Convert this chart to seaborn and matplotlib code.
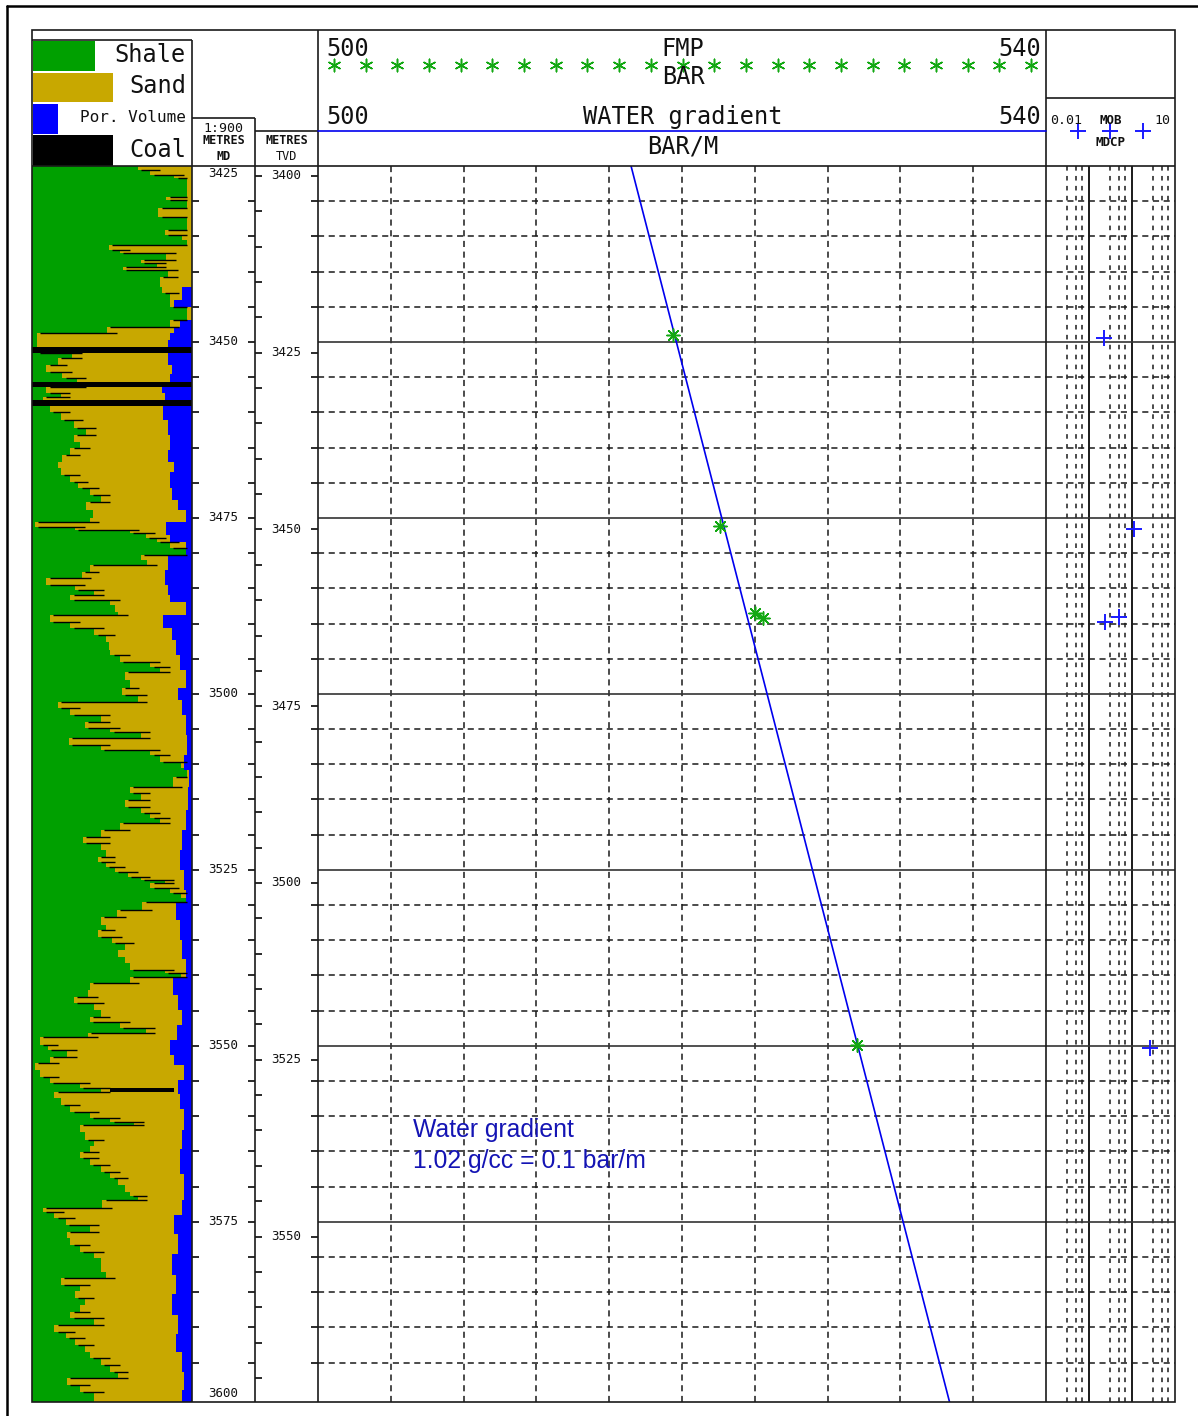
import numpy as np
import matplotlib
matplotlib.use("Agg")
import matplotlib.pyplot as plt
from matplotlib.patches import Rectangle
import seaborn as sns

# ---------------- DATA ----------------
MD_TOP, MD_BOT = 3425.0, 3600.6
TVD_TOP, TVD_BOT = 3398.6, 3573.4
P_MIN, P_MAX = 500, 540
MOB_MIN, MOB_MAX = 0.01, 10

# lithology: shale volume (fraction from left), step tops in MD
litho_md = [3425.0, 3425.6, 3426.3, 3426.7, 3429.4, 3429.8, 3431.0, 3432.2, 3434.1, 3434.8,
            3435.5, 3436.2, 3436.9, 3437.4, 3438.4, 3438.8, 3439.3, 3439.8, 3440.8, 3442.2,
            3443.0, 3445.0, 3446.9, 3447.9, 3448.7, 3451.6, 3452.3, 3453.3, 3454.3, 3455.1,
            3456.4, 3457.2, 3457.8, 3459.1, 3459.9, 3461.1, 3462.2, 3463.2, 3464.2, 3465.1,
            3466.1, 3467.0, 3467.9, 3468.9, 3469.9, 3470.7, 3471.7, 3472.7, 3473.9, 3475.0,
            3475.6, 3476.3, 3476.7, 3477.1, 3477.8, 3478.4, 3479.3, 3480.3, 3481.0, 3481.7,
            3482.7, 3483.5, 3484.5, 3485.2, 3485.9, 3486.6, 3487.4, 3488.4, 3488.8, 3489.8,
            3490.6, 3491.6, 3492.6, 3493.8, 3494.5, 3495.5, 3496.2, 3496.9, 3498.0, 3499.1,
            3500.1, 3501.1, 3502.0, 3503.0, 3504.0, 3504.8, 3505.4, 3506.2, 3507.2, 3508.0,
            3508.7, 3509.7, 3510.5, 3511.8, 3513.2, 3514.1, 3515.1, 3516.1, 3516.9, 3517.6,
            3518.3, 3519.3, 3520.3, 3521.2, 3522.2, 3523.2, 3523.9, 3524.6, 3525.3, 3526.0,
            3526.4, 3526.8, 3527.6, 3528.3, 3529.0, 3529.5, 3530.7, 3531.7, 3532.8, 3533.5,
            3534.5, 3535.4, 3536.4, 3537.4, 3538.2, 3539.2, 3539.6, 3540.2, 3541.1, 3542.0,
            3543.0, 3543.9, 3544.9, 3545.9, 3546.6, 3547.4, 3548.2, 3548.7, 3549.9, 3550.6,
            3551.6, 3552.4, 3553.4, 3554.4, 3555.3, 3556.0, 3556.5, 3557.4, 3558.4, 3559.4,
            3560.2, 3560.8, 3561.2, 3562.2, 3563.4, 3564.2, 3565.1, 3565.9, 3566.9, 3567.9,
            3568.8, 3569.7, 3570.7, 3571.4, 3571.9, 3573.0, 3573.6, 3574.4, 3575.4, 3576.4,
            3577.3, 3578.3, 3579.3, 3580.1, 3581.1, 3582.1, 3583.0, 3584.0, 3584.9, 3585.8,
            3586.8, 3587.8, 3588.6, 3589.6, 3590.6, 3591.5, 3592.5, 3593.5, 3594.3, 3595.3,
            3596.3, 3597.2, 3598.2, 3599.2]
vsh = [0.66, 0.74, 0.89, 0.97, 0.84, 0.97, 0.79, 0.97, 0.83, 0.94,
       0.97, 0.48, 0.55, 0.84, 0.68, 0.78, 0.57, 0.85, 0.80, 0.81,
       0.86, 0.97, 0.86, 0.47, 0.03, 0.25, 0.16, 0.09, 0.19, 0.28,
       0.09, 0.18, 0.07, 0.11, 0.18, 0.26, 0.34, 0.26, 0.30, 0.24,
       0.19, 0.16, 0.18, 0.24, 0.29, 0.36, 0.43, 0.34, 0.38, 0.36,
       0.02, 0.27, 0.61, 0.71, 0.78, 0.86, 0.96, 0.68, 0.72, 0.36,
       0.31, 0.09, 0.27, 0.39, 0.24, 0.49, 0.52, 0.54, 0.11, 0.24,
       0.39, 0.46, 0.48, 0.49, 0.55, 0.74, 0.80, 0.58, 0.61, 0.56,
       0.66, 0.16, 0.24, 0.43, 0.33, 0.49, 0.68, 0.23, 0.43, 0.74,
       0.80, 0.93, 0.97, 0.88, 0.61, 0.68, 0.58, 0.68, 0.74, 0.80,
       0.55, 0.43, 0.32, 0.43, 0.46, 0.41, 0.46, 0.52, 0.60, 0.68,
       0.83, 0.74, 0.86, 0.93, 0.97, 0.69, 0.53, 0.43, 0.46, 0.41,
       0.50, 0.58, 0.54, 0.58, 0.61, 0.83, 0.93, 0.61, 0.36, 0.35,
       0.26, 0.39, 0.43, 0.36, 0.55, 0.71, 0.35, 0.05, 0.10, 0.22,
       0.11, 0.02, 0.05, 0.11, 0.30, 0.43, 0.14, 0.18, 0.24, 0.36,
       0.49, 0.64, 0.30, 0.33, 0.39, 0.36, 0.30, 0.36, 0.43, 0.49,
       0.54, 0.58, 0.61, 0.66, 0.44, 0.07, 0.14, 0.21, 0.36, 0.22,
       0.24, 0.30, 0.39, 0.43, 0.43, 0.46, 0.18, 0.30, 0.27, 0.33,
       0.30, 0.24, 0.39, 0.14, 0.21, 0.27, 0.33, 0.36, 0.43, 0.49,
       0.54, 0.22, 0.30, 0.39]

# porosity volume (fraction from right), step tops in MD
por_md = [3425.0, 3442.2, 3444.0, 3445.0, 3446.9, 3447.9, 3448.7, 3449.7, 3453.3, 3454.6,
          3456.4, 3457.2, 3459.1, 3461.1, 3463.2, 3465.3, 3467.0, 3468.5, 3470.7, 3472.4,
          3473.9, 3475.6, 3477.4, 3478.4, 3480.3, 3482.4, 3484.5, 3485.9, 3486.9, 3488.8,
          3490.6, 3492.3, 3494.5, 3496.6, 3499.1, 3500.8, 3503.0, 3505.8, 3508.7, 3510.8,
          3513.2, 3516.5, 3519.3, 3522.2, 3525.0, 3527.8, 3529.5, 3532.1, 3534.9, 3537.7,
          3540.2, 3542.8, 3544.9, 3547.0, 3549.2, 3551.3, 3552.7, 3554.8, 3556.9, 3559.0,
          3561.9, 3564.7, 3568.2, 3571.9, 3574.0, 3576.8, 3579.6, 3582.5, 3585.3, 3588.2,
          3591.0, 3593.5, 3596.3, 3598.9]
phi = [0.00, 0.06, 0.11, 0.00, 0.075, 0.11, 0.14, 0.15, 0.125, 0.14,
       0.19, 0.17, 0.18, 0.15, 0.14, 0.15, 0.11, 0.14, 0.125, 0.09,
       0.04, 0.16, 0.14, 0.04, 0.15, 0.17, 0.15, 0.14, 0.04, 0.18,
       0.125, 0.10, 0.075, 0.04, 0.09, 0.06, 0.04, 0.03, 0.05, 0.02,
       0.025, 0.04, 0.06, 0.075, 0.05, 0.04, 0.10, 0.075, 0.06, 0.04,
       0.12, 0.09, 0.06, 0.095, 0.14, 0.11, 0.05, 0.09, 0.075, 0.05,
       0.06, 0.075, 0.05, 0.06, 0.11, 0.09, 0.125, 0.10, 0.125, 0.09,
       0.10, 0.06, 0.05, 0.06]

# coal beds: top, base, left, right (fraction of track)
coal_top = [3450.7, 3455.7, 3458.2, 3556.0]
coal_base = [3451.6, 3456.4, 3459.1, 3556.5]
coal_left = [0.0, 0.0, 0.0, 0.49]
coal_right = [1.0, 1.0, 1.0, 0.89]

# formation pressures (FMP, bar)
fmp_md = [3449.0, 3476.1, 3488.5, 3489.2, 3549.9]
fmp_bar = [519.5, 522.1, 524.0, 524.45, 529.6]

# mobility (MOB / MDCP)
mob_md = [3449.5, 3476.6, 3489.8, 3489.1, 3550.3]
mob_val = [0.223, 1.11, 0.236, 0.50, 2.62]

# water gradient line (0.1 bar/m)
wg_md = [3425.0, 3600.6]
wg_bar = [517.2, 534.7]

md_tick_labels = [3425, 3450, 3475, 3500, 3525, 3550, 3575, 3600]
tvd_tick_labels = [3400, 3425, 3450, 3475, 3500, 3525, 3550]

# ---------------- STYLE ----------------
sns.set_theme(style="white")
plt.rcParams['font.family'] = ['DejaVu Sans Mono', 'DejaVu Sans']

SHALE = '#00A000'
SAND = '#C8A800'
POR = '#0000FF'
FMPG = '#12A812'
WBLUE = '#0000EE'
LINEC = '#1a1a1a'
DASH = (0, (4, 3))

W, H = 1198, 1416
fig = plt.figure(figsize=(W / 100, H / 100), dpi=100)
fig.patch.set_facecolor('white')


def add_ax(x0, y0, x1, y1, **kw):
    return fig.add_axes([x0 / W, 1 - y1 / H, (x1 - x0) / W, (y1 - y0) / H], **kw)


def clean(ax):
    ax.set_xticks([])
    ax.set_yticks([])
    for s in ax.spines.values():
        s.set_visible(False)


# ---- lithology track ----
ax_l = add_ax(32, 166, 192, 1402)
ax_l.set_xlim(0, 1)
ax_l.set_ylim(MD_BOT, MD_TOP)
ax_l.set_facecolor(SAND)
clean(ax_l)
ly = np.append(litho_md, MD_BOT)
lv = np.append(vsh, vsh[-1])
ax_l.fill_betweenx(ly, 0, lv, step='post', color=SHALE, lw=0, antialiased=False)
py = np.append(por_md, MD_BOT)
pv = np.append(phi, phi[-1])
ax_l.fill_betweenx(py, 1 - pv, 1, step='post', color=POR, lw=0, antialiased=False)
# thin coal streaks at lithology transitions
for i in range(1, len(vsh)):
    a, b = sorted((vsh[i - 1], vsh[i]))
    if b - a > 0.04:
        ax_l.hlines(litho_md[i], a + 0.02, min(b + 0.06, 0.97), color='black', lw=1.0)
for t, b, x0, x1 in zip(coal_top, coal_base, coal_left, coal_right):
    ax_l.fill_between([x0, x1], t, b, color='black', lw=0)

# ---- MD track ----
ax_md = add_ax(192, 166, 255, 1402)
ax_md.set_xlim(0, 1)
ax_md.set_ylim(MD_BOT, MD_TOP)
clean(ax_md)
md_ticks = np.arange(3430, 3600, 5)
ax_md.hlines(md_ticks, 0.0, 0.11, color=LINEC, lw=1.3)
ax_md.hlines(md_ticks, 0.89, 1.0, color=LINEC, lw=1.3)
for d in md_tick_labels:
    va = 'center'
    yy = d
    if d == md_tick_labels[0]:
        va, yy = 'top', MD_TOP + 0.1
    elif d == md_tick_labels[-1]:
        va, yy = 'bottom', MD_BOT - 0.3
    ax_md.text(0.5, yy, str(d), ha='center', va=va, fontsize=9, color='#111111')

# ---- TVD track ----
ax_tvd = add_ax(255, 166, 318, 1402)
ax_tvd.set_xlim(0, 1)
ax_tvd.set_ylim(TVD_BOT, TVD_TOP)
clean(ax_tvd)
tvd_ticks = np.arange(3400, 3575, 5)
ax_tvd.hlines(tvd_ticks, 0.0, 0.11, color=LINEC, lw=1.3)
ax_tvd.hlines(tvd_tick_labels, 0.89, 1.0, color=LINEC, lw=1.3)
for d in tvd_tick_labels:
    ax_tvd.text(0.5, d, str(d), ha='center', va='center', fontsize=9, color='#111111')
# MD ticks of the pressure track drawn into the TVD track edge
ax_tvd_md = add_ax(255, 166, 318, 1402)
ax_tvd_md.set_xlim(0, 1)
ax_tvd_md.set_ylim(MD_BOT, MD_TOP)
ax_tvd_md.patch.set_alpha(0)
clean(ax_tvd_md)
ax_tvd_md.hlines([d for d in md_ticks if d % 25], 0.89, 1.0, color=LINEC, lw=1.3)

# ---- pressure track ----
ax_m = add_ax(318, 166, 1046, 1402)
ax_m.set_xlim(P_MIN, P_MAX)
ax_m.set_ylim(MD_BOT, MD_TOP)
clean(ax_m)
for p in range(P_MIN + 4, P_MAX, 4):
    ax_m.axvline(p, color=LINEC, lw=1.1, ls=DASH, zorder=1)
for d in md_ticks:
    if d % 25:
        ax_m.axhline(d, color=LINEC, lw=1.1, ls=DASH, zorder=1)
    else:
        ax_m.axhline(d, color='#333333', lw=1.2, zorder=1)
sns.lineplot(x=wg_bar, y=wg_md, sort=False, estimator=None, color=WBLUE, lw=1.2, ax=ax_m, zorder=3)
sns.scatterplot(x=fmp_bar, y=fmp_md, marker=(8, 2, 0), s=90, color=FMPG, linewidth=1.1, ax=ax_m, zorder=4)
ax_m.set_xlim(P_MIN, P_MAX)
ax_m.set_ylim(MD_BOT, MD_TOP)
ax_m.set_xlabel('')
ax_m.set_ylabel('')
ax_m.text(505.2, 3562.9, 'Water gradient', family=['Liberation Sans', 'DejaVu Sans'],
          fontsize=17.8, color='#1414B4', ha='left', va='baseline', zorder=5)
ax_m.text(505.2, 3567.3, '1.02 g/cc = 0.1 bar/m', family=['Liberation Sans', 'DejaVu Sans'],
          fontsize=17.8, color='#1414B4', ha='left', va='baseline', zorder=5)

# ---- mobility track ----
ax_r = add_ax(1046, 166, 1175, 1402)
ax_r.set_xscale('log')
ax_r.set_xlim(MOB_MIN, MOB_MAX)
ax_r.set_ylim(MD_BOT, MD_TOP)
clean(ax_r)
ax_r.minorticks_off()
for dec in [0.01, 0.1, 1]:
    for m in [3, 5, 7]:
        ax_r.axvline(dec * m, color=LINEC, lw=1.1, ls=(0, (3, 3.5)), zorder=1)
for dec in [0.1, 1]:
    ax_r.axvline(dec, color=LINEC, lw=1.4, zorder=1)
for d in md_ticks:
    if d % 25:
        ax_r.axhline(d, color=LINEC, lw=1.1, ls=DASH, zorder=1)
    else:
        ax_r.axhline(d, color='#333333', lw=1.2, zorder=1)
sns.scatterplot(x=mob_val, y=mob_md, marker='+', s=130, color='#1a1aff', linewidth=1.4, ax=ax_r, zorder=4)
ax_r.set_xscale('log')
ax_r.set_xlim(MOB_MIN, MOB_MAX)
ax_r.set_ylim(MD_BOT, MD_TOP)
ax_r.set_xlabel('')
ax_r.set_ylabel('')
ax_r.minorticks_off()
ax_r.set_xticks([])
ax_r.set_yticks([])

# ---- overlay: frames, headers, legend ----
ov = fig.add_axes([0, 0, 1, 1], zorder=20)
ov.set_xlim(0, W)
ov.set_ylim(H, 0)
ov.axis('off')
ov.patch.set_alpha(0)

FW = 1.2
# outer page frame
ov.plot([7, W], [6, 6], color='black', lw=1.8)
ov.plot([7, 7], [6, H], color='black', lw=1.8)
# panel frame
ov.add_patch(Rectangle((32, 30), 1175 - 32, 1402 - 30, fill=False, ec=LINEC, lw=FW))
segs = [
    ((32, 1175), (166, 166)),
    ((192, 192), (40, 1402)),
    ((255, 255), (118, 1402)),
    ((318, 318), (30, 1402)),
    ((1046, 1046), (30, 1402)),
    ((32, 192), (40, 40)),
    ((192, 255), (118, 118)),
    ((255, 318), (131, 131)),
    ((1046, 1175), (98, 98)),
]
for xs, ys in segs:
    ov.plot(xs, ys, color=LINEC, lw=FW, solid_capstyle='butt')

# legend swatches
ov.add_patch(Rectangle((33, 41), 62, 30, color=SHALE, lw=0))
ov.add_patch(Rectangle((33, 73), 80, 29, color=SAND, lw=0))
ov.add_patch(Rectangle((33, 104), 25, 30, color=POR, lw=0))
ov.add_patch(Rectangle((33, 135), 80, 31, color='black', lw=0))
ov.text(186, 55, 'Shale', ha='right', va='center', fontsize=17, color='#111111')
ov.text(186, 86, 'Sand', ha='right', va='center', fontsize=17, color='#111111')
ov.text(186, 118, 'Por. Volume', ha='right', va='center', fontsize=11.5, color='#111111')
ov.text(186, 150, 'Coal', ha='right', va='center', fontsize=17, color='#111111')

# depth headers
ov.text(223.5, 128, '1:900', ha='center', va='center', fontsize=9.5, color='#111111')
ov.text(223.5, 141, 'METRES', ha='center', va='center', fontsize=8.5, weight='bold', color='#111111')
ov.text(223.5, 156, 'MD', ha='center', va='center', fontsize=8.5, weight='bold', color='#111111')
ov.text(286.5, 141, 'METRES', ha='center', va='center', fontsize=8.5, weight='bold', color='#111111')
ov.text(286.5, 156, 'TVD', ha='center', va='center', fontsize=8.5, color='#111111')

# pressure header
ov.text(326, 49, str(P_MIN), ha='left', va='center', fontsize=17, color='#111111')
ov.text(683, 49, 'FMP', ha='center', va='center', fontsize=17, color='#111111')
ov.text(1041, 49, str(P_MAX), ha='right', va='center', fontsize=17, color='#111111')
ov.text(683, 77, 'BAR', ha='center', va='center', fontsize=17, color='#111111')
ov.scatter(np.linspace(334, 1031, 23), np.full(23, 65), marker=(6, 2, 0), s=80,
           color=FMPG, linewidth=1.1)
ov.text(326, 117, str(P_MIN), ha='left', va='center', fontsize=17, color='#111111')
ov.text(683, 117, 'WATER gradient', ha='center', va='center', fontsize=17, color='#111111')
ov.text(1041, 117, str(P_MAX), ha='right', va='center', fontsize=17, color='#111111')
ov.plot([318, 1046], [131, 131], color=WBLUE, lw=1.2)
ov.text(683, 146, 'BAR/M', ha='center', va='center', fontsize=17, color='#111111')

# mobility header
ov.text(1050, 121, '0.01', ha='left', va='center', fontsize=9.5, color='#111111')
ov.text(1111, 121, 'MOB', ha='center', va='center', fontsize=9, weight='bold', color='#111111')
ov.text(1170, 121, '10', ha='right', va='center', fontsize=9.5, color='#111111')
ov.text(1110, 142, 'MDCP', ha='center', va='center', fontsize=9, weight='bold', color='#111111')
ov.scatter([1078, 1110, 1143], [131, 131, 131], marker='+', s=130, color='#1a1aff', linewidth=1.4)

fig.savefig('out.png', dpi=100, facecolor='white')
